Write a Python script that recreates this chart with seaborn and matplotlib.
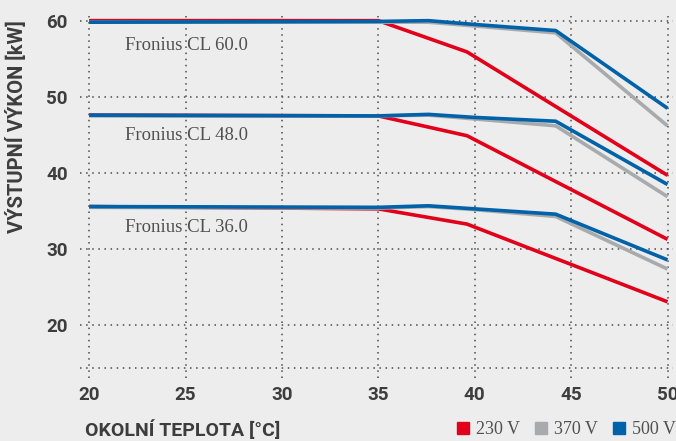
import matplotlib
matplotlib.use("Agg")
import matplotlib.pyplot as plt
from matplotlib import font_manager
from matplotlib.lines import Line2D
import pandas as pd
import seaborn as sns

# --- data ---
models = ["Fronius CL 60.0", "Fronius CL 48.0", "Fronius CL 36.0"]
voltages = ["230 V", "370 V", "500 V"]

temp_230 = [20, 35, 39.6, 50]
temp_hi = [20, 35, 37.6, 40, 44.2, 50]

cl60_230 = [60.0, 60.0, 55.9, 39.7]
cl60_370 = [59.8, 59.8, 59.8, 59.3, 58.4, 46.2]
cl60_500 = [59.8, 59.9, 60.0, 59.5, 58.7, 48.5]

cl48_230 = [47.6, 47.5, 44.9, 31.3]
cl48_370 = [47.5, 47.5, 47.6, 47.1, 46.2, 36.9]
cl48_500 = [47.6, 47.5, 47.7, 47.3, 46.8, 38.5]

cl36_230 = [35.6, 35.3, 33.3, 23.1]
cl36_370 = [35.5, 35.4, 35.6, 35.2, 34.3, 27.4]
cl36_500 = [35.6, 35.5, 35.7, 35.3, 34.6, 28.6]

x_ticks = [20, 25, 30, 35, 40, 45, 50]
y_ticks = [20, 30, 40, 50, 60]

palette = {"230 V": "#e2001a", "370 V": "#a8abae", "500 V": "#0062a8"}

series = {
    ("Fronius CL 60.0", "230 V"): (temp_230, cl60_230),
    ("Fronius CL 60.0", "370 V"): (temp_hi, cl60_370),
    ("Fronius CL 60.0", "500 V"): (temp_hi, cl60_500),
    ("Fronius CL 48.0", "230 V"): (temp_230, cl48_230),
    ("Fronius CL 48.0", "370 V"): (temp_hi, cl48_370),
    ("Fronius CL 48.0", "500 V"): (temp_hi, cl48_500),
    ("Fronius CL 36.0", "230 V"): (temp_230, cl36_230),
    ("Fronius CL 36.0", "370 V"): (temp_hi, cl36_370),
    ("Fronius CL 36.0", "500 V"): (temp_hi, cl36_500),
}

rows = []
for (model, volt), (xs, ys) in series.items():
    for t, p in zip(xs, ys):
        rows.append({"model": model, "voltage": volt, "temp": t, "power": p})
df = pd.DataFrame(rows)


def pick_font(candidates):
    names = {f.name for f in font_manager.fontManager.ttflist}
    for c in candidates:
        if c in names:
            return c
    return "DejaVu Sans"


sans_bold = pick_font(["Liberation Sans Narrow", "DejaVu Sans Condensed", "Roboto", "DejaVu Sans"])
serif = pick_font(["Liberation Serif", "DejaVu Serif"])

bg = "#ecedec"
dark = "#3d3d3d"
grid_style = dict(color="#4a4a4a", linestyle=(0, (1, 3)), linewidth=1.1)

sns.set_style("white")
fig = plt.figure(figsize=(6.76, 4.41), dpi=100, facecolor=bg)
ax = fig.add_axes([0.119, 0.1429, 0.877, 0.8206], facecolor=bg)

sns.lineplot(
    data=df, x="temp", y="power", hue="voltage", units="model",
    estimator=None, hue_order=voltages, palette=palette,
    linewidth=2.6, legend=False, ax=ax, sort=False,
)
for line in ax.lines:
    line.set_clip_on(False)
    line.set_solid_capstyle("butt")

ax.set_xlim(19.55, 50.3)
ax.set_ylim(13.1, 60.6)
ax.set_xticks(x_ticks)
ax.set_yticks(y_ticks)
ax.grid(True, **grid_style)
ax.set_axisbelow(True)
ax.axhline(14.45, zorder=0.5, **grid_style)
for s in ax.spines.values():
    s.set_visible(False)

ax.tick_params(axis="both", length=0, labelsize=13.5, labelcolor=dark)
ax.tick_params(axis="y", pad=9)
ax.tick_params(axis="x", pad=6)
for lab in ax.get_xticklabels() + ax.get_yticklabels():
    lab.set_fontfamily(sans_bold)
    lab.set_fontweight("bold")
ax.set_xlabel("")
ax.set_ylabel("")

# model labels
label_pos = {"Fronius CL 60.0": 56.7, "Fronius CL 48.0": 44.9, "Fronius CL 36.0": 32.9}
for model in models:
    ax.text(21.85, label_pos[model], model, family=serif, fontsize=13.5,
            color="#505050", va="center", ha="left")

fig.text(17 / 676, 1 - 20 / 441, "VÝSTUPNÍ VÝKON [kW]", rotation=90, va="top",
         ha="center", family=sans_bold, fontweight="bold", fontsize=14.5, color=dark)
fig.text(85 / 676, 1 - 430 / 441, "OKOLNÍ TEPLOTA [°C]", va="center", ha="left",
         family=sans_bold, fontweight="bold", fontsize=14, color=dark)

handles = [Line2D([], [], marker="s", linestyle="", markersize=9,
                  markerfacecolor=palette[v], markeredgecolor=palette[v]) for v in voltages]
fig.legend(handles, voltages, loc="center right", bbox_to_anchor=(1.0, 1 - 430 / 441),
           ncol=3, frameon=False, handlelength=0.8, handletextpad=0.3,
           columnspacing=0.8, borderaxespad=0, borderpad=0,
           prop={"family": serif, "size": 13}, labelcolor="#505050")

fig.savefig("out.png", dpi=100, facecolor=bg)
plt.close(fig)
